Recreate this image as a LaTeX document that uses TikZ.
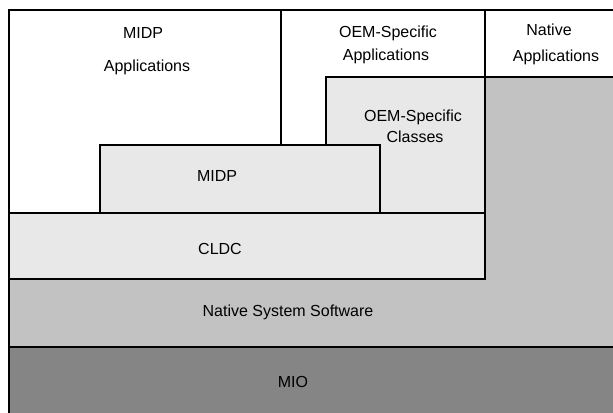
\documentclass[tikz,border=0pt]{standalone}
\usepackage{fontspec}
\setmainfont{Liberation Sans}
\begin{document}
\begin{tikzpicture}[x=0.75pt,y=-0.75pt,
  lightfill/.style={fill=black!9},
  nativefill/.style={fill=black!24},
  miofill/.style={fill=black!48},
  edge/.style={draw=black,line width=0.9pt},
  lbl/.style={inner sep=0pt,font=\fontsize{12}{14}\selectfont}]
\useasboundingbox (0,0) rectangle (613,413);
\fill[white] (0,0) rectangle (613,413);
% Native region (applications area) and native system software band
\fill[nativefill] (485,77) rectangle (613,279);
\fill[nativefill] (9,279) rectangle (613,347);
% MIO
\fill[miofill] (9,347) rectangle (613,413);
% boxes
\filldraw[lightfill,edge] (326,77) rectangle (485,213);
\filldraw[lightfill,edge] (100,145) rectangle (380,213);
\filldraw[lightfill,edge] (9,213) rectangle (485,279);
% lines
\draw[edge] (9,413) -- (9,10) -- (613,10);
\draw[line width=1.8pt] (281,10) -- (281,145);
\draw[edge] (485,10) -- (485,77) -- (613,77);
\draw[edge] (9,347) -- (613,347);
% labels
\node[lbl] (midpapp1) at (143,33) {MIDP};
\node[lbl] (midpapp2) at (147,67) {Applications};
\node[lbl] (oemapp1) at (388,33) {OEM-Specific};
\node[lbl] (oemapp2) at (386,56) {Applications};
\node[lbl] (natapp1) at (549,30) {Native};
\node[lbl] (natapp2) at (556,57) {Applications};
\node[lbl] (oemcls1) at (413,117) {OEM-Specific};
\node[lbl] (oemcls2) at (415,137) {Classes};
\node[lbl] (midp) at (217,176) {MIDP};
\node[lbl] (cldc) at (220,249) {CLDC};
\node[lbl] (nss) at (288,312) {Native System Software};
\node[lbl] (mio) at (293,382) {MIO};
\end{tikzpicture}
\end{document}
